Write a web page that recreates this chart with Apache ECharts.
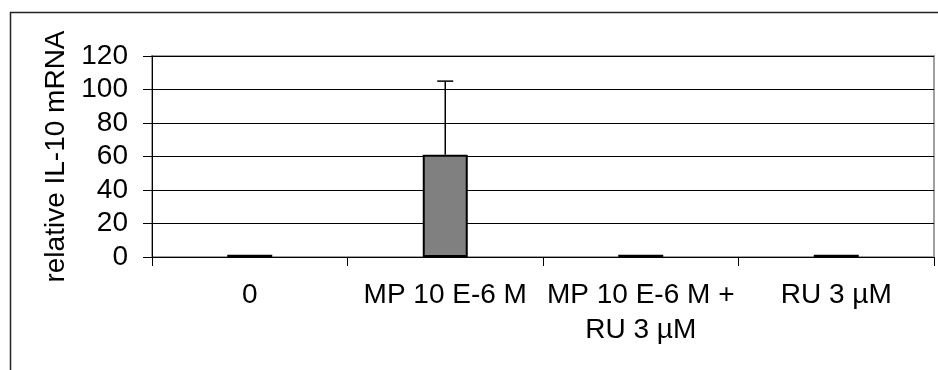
<!DOCTYPE html>
<html>
<head>
<meta charset="utf-8">
<script src="https://cdn.jsdelivr.net/npm/echarts@6/dist/echarts.min.js"></script>
<style>
html,body{margin:0;padding:0;background:#fff;}
#chart{width:938px;height:370px;}
</style>
</head>
<body>
<div id="chart"></div>
<script>
var categories = ['0', 'MP 10 E-6 M', 'MP 10 E-6 M +\nRU 3 \u00b5M', 'RU 3 \u00b5M'];
var values = [1.3, 61, 1.3, 1.3];
var errors = [0, 44, 0, 0];
var yTicks = { min: 0, max: 120, interval: 20 };
var yName = 'relative IL-10 mRNA';

var FONT = '"Liberation Sans", Arial, sans-serif';
var chart = echarts.init(document.getElementById('chart'), null, { renderer: 'canvas' });

var errData = values.map(function (v, i) { return [i, v, v + errors[i]]; });

chart.setOption({
  backgroundColor: '#fff',
  animation: false,
  graphic: [{
    type: 'rect',
    shape: { x: 10.5, y: 12.5, width: 1000, height: 400 },
    style: { fill: 'none', stroke: '#222', lineWidth: 1.5 },
    z: 0
  }],
  grid: {
    left: 152, right: 4, top: 56, bottom: 113,
    show: true, borderColor: '#a0a0a0', borderWidth: 2,
    outerBoundsMode: 'none', containLabel: false
  },
  xAxis: {
    type: 'category',
    data: categories,
    axisLine: { lineStyle: { color: '#000', width: 1 } },
    axisTick: { show: true, length: 9, lineStyle: { color: '#000' } },
    axisLabel: { interval: 0, fontSize: 28, fontFamily: FONT, color: '#000', margin: 21, lineHeight: 35 },
    splitLine: { show: false }
  },
  yAxis: {
    type: 'value',
    min: yTicks.min, max: yTicks.max, interval: yTicks.interval,
    name: yName,
    nameLocation: 'middle',
    nameRotate: 90,
    nameGap: 78,
    nameTextStyle: { fontSize: 28, fontFamily: FONT, color: '#000' },
    axisLine: { show: true, lineStyle: { color: '#000', width: 1 } },
    axisTick: { show: true, length: 9, lineStyle: { color: '#000' } },
    axisLabel: { fontSize: 28, fontFamily: FONT, color: '#000', margin: 24 },
    splitLine: { show: true, lineStyle: { color: '#000', width: 1 } }
  },
  series: [{
    type: 'bar',
    data: values,
    barWidth: 45,
    itemStyle: { color: '#808080', borderColor: '#000', borderWidth: 2 },
    z: 3
  }, {
    type: 'custom',
    data: errData,
    z: 4,
    renderItem: function (params, api) {
      var i = api.value(0);
      var lo = api.coord([i, api.value(1)]);
      var hi = api.coord([i, api.value(2)]);
      if (hi[1] >= lo[1] - 0.5) return null;
      var cap = 8;
      return {
        type: 'group',
        children: [
          { type: 'line', shape: { x1: lo[0], y1: lo[1], x2: hi[0], y2: hi[1] }, style: { stroke: '#000', lineWidth: 1.5 } },
          { type: 'line', shape: { x1: hi[0] - cap, y1: hi[1], x2: hi[0] + cap, y2: hi[1] }, style: { stroke: '#000', lineWidth: 1.5 } }
        ]
      };
    }
  }]
});
</script>
</body>
</html>
